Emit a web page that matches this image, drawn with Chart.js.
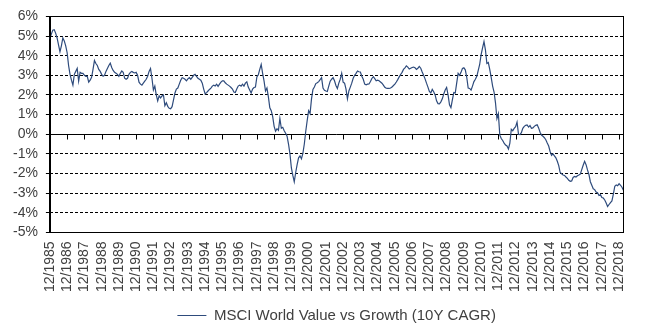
<!DOCTYPE html>
<html lang="en">
<head>
  <meta charset="UTF-8" />
  <title>MSCI World Value vs Growth (10Y CAGR)</title>
  <script src="https://cdn.jsdelivr.net/npm/chart.js"></script>
  <style>
    body { margin: 0; background: #fff; }
    .wrap { width: 645px; height: 333px; }
  </style>
</head>
<body>
  <div class="wrap"><canvas id="chart"></canvas></div>

  <script>
    // monthly 10Y CAGR of value vs growth, in %
    const startYear = 1985;
    const startMonth = 12;

    const v1985 = [4.87];
    const v1986 = [5.1, 5.3, 5.32, 5.15, 4.9, 4.55, 4.2, 4.5, 4.9, 4.75, 4.5, 4.15];
    const v1987 = [3.5, 3.05, 2.75, 2.5, 3.05, 3.2, 3.35, 2.7, 3.15, 3.1, 3.1, 3.0];
    const v1988 = [2.95, 2.95, 2.65, 2.75, 2.9, 3.3, 3.75, 3.6, 3.5, 3.3, 3.2, 3.05];
    const v1989 = [2.95, 3.0, 3.2, 3.35, 3.5, 3.62, 3.4, 3.25, 3.15, 3.1, 3.05, 2.95];
    const v1990 = [3.1, 3.22, 3.15, 2.85, 2.8, 2.85, 3.05, 3.15, 3.2, 3.15, 3.12, 3.15];
    const v1991 = [3.0, 2.65, 2.55, 2.5, 2.6, 2.7, 2.8, 2.95, 3.2, 3.35, 2.85, 2.25];
    const v1992 = [2.45, 2.0, 1.7, 1.95, 1.85, 1.95, 2.0, 1.45, 1.6, 1.42, 1.32, 1.3];
    const v1993 = [1.4, 1.75, 2.1, 2.3, 2.35, 2.55, 2.75, 2.88, 2.85, 2.8, 2.72, 2.82];
    const v1994 = [2.88, 2.8, 2.9, 3.0, 3.05, 2.95, 2.85, 2.8, 2.75, 2.6, 2.3, 2.05];
    const v1995 = [2.12, 2.2, 2.28, 2.35, 2.45, 2.5, 2.46, 2.55, 2.44, 2.55, 2.65, 2.72];
    const v1996 = [2.72, 2.62, 2.55, 2.5, 2.45, 2.38, 2.3, 2.15, 2.12, 2.3, 2.45, 2.5];
    const v1997 = [2.45, 2.55, 2.45, 2.6, 2.67, 2.4, 2.25, 2.1, 2.3, 2.38, 2.4, 2.92];
    const v1998 = [3.03, 3.3, 3.55, 3.1, 2.7, 2.2, 2.35, 1.9, 1.35, 1.2, 0.9, 0.4];
    const v1999 = [0.15, 0.28, 0.2, 0.8, 0.3, 0.35, 0.18, 0.05, -0.1, -0.5, -1.0, -1.72];
    const v2000 = [-2.1, -2.42, -1.95, -1.55, -1.2, -1.1, -1.25, -0.98, -0.5, 0.15, 0.7, 1.2];
    const v2001 = [1.05, 1.8, 2.28, 2.4, 2.58, 2.62, 2.68, 2.78, 2.88, 2.35, 2.24, 2.2];
    const v2002 = [2.18, 2.45, 2.7, 2.8, 2.88, 2.72, 2.48, 2.33, 2.6, 2.8, 3.1, 2.65];
    const v2003 = [2.6, 2.3, 1.8, 2.2, 2.4, 2.6, 2.85, 3.0, 3.1, 3.22, 3.18, 3.17];
    const v2004 = [2.95, 2.8, 2.55, 2.52, 2.55, 2.56, 2.68, 2.84, 2.93, 2.83, 2.72, 2.75];
    const v2005 = [2.72, 2.66, 2.6, 2.5, 2.39, 2.34, 2.33, 2.33, 2.35, 2.4, 2.48, 2.55];
    const v2006 = [2.66, 2.78, 2.92, 3.04, 3.15, 3.3, 3.38, 3.48, 3.42, 3.32, 3.36, 3.4];
    const v2007 = [3.42, 3.38, 3.3, 3.36, 3.45, 3.36, 3.17, 3.0, 2.82, 2.6, 2.4, 2.18];
    const v2008 = [2.1, 2.28, 2.16, 2.0, 1.7, 1.56, 1.55, 1.65, 1.8, 2.05, 2.25, 2.38];
    const v2009 = [2.0, 1.5, 1.35, 1.75, 2.12, 2.1, 2.6, 3.1, 3.0, 3.15, 3.35, 3.38];
    const v2010 = [3.28, 2.9, 2.35, 2.33, 2.25, 2.45, 2.68, 2.8, 2.95, 3.25, 3.55, 4.05];
    const v2011 = [4.4, 4.72, 4.3, 3.6, 3.65, 3.3, 2.9, 2.45, 2.15, 1.6, 0.8, 1.05];
    const v2012 = [-0.05, -0.22, -0.32, -0.45, -0.55, -0.6, -0.75, -0.45, 0.25, 0.18, 0.3, 0.38];
    const v2013 = [0.62, 0.0, -0.02, 0.08, 0.3, 0.4, 0.45, 0.47, 0.36, 0.44, 0.3, 0.32];
    const v2014 = [0.4, 0.45, 0.48, 0.32, 0.1, -0.04, -0.1, -0.18, -0.28, -0.45, -0.6, -0.88];
    const v2015 = [-1.08, -1.0, -1.1, -1.2, -1.38, -1.6, -1.95, -2.02, -2.08, -2.1, -2.18, -2.25];
    const v2016 = [-2.35, -2.4, -2.38, -2.2, -2.15, -2.18, -2.12, -2.08, -2.03, -1.8, -1.58, -1.38];
    const v2017 = [-1.55, -1.82, -2.05, -2.42, -2.6, -2.78, -2.82, -2.95, -2.98, -3.12, -3.08, -3.22];
    const v2018 = [-3.25, -3.35, -3.5, -3.68, -3.58, -3.48, -3.4, -3.05, -2.65, -2.58, -2.62, -2.52];
    const v2019 = [-2.6, -2.7, -2.85];

    const seriesName = 'MSCI World Value vs Growth (10Y CAGR)';
    const yMin = -5;
    const yMax = 6;
    const yStep = 1;
    const tickMonth = 12; // one label per year, at december

    const values = [].concat(
      v1985, v1986, v1987, v1988, v1989, v1990, v1991, v1992, v1993, v1994,
      v1995, v1996, v1997, v1998, v1999, v2000, v2001, v2002, v2003, v2004,
      v2005, v2006, v2007, v2008, v2009, v2010, v2011, v2012, v2013, v2014,
      v2015, v2016, v2017, v2018, v2019
    );

    const months = values.map((_, i) => {
      const n = startMonth - 1 + i;
      return (n % 12 + 1) + '/' + (startYear + Math.floor(n / 12));
    });

    const labelFont = { family: "'Liberation Sans', Arial, sans-serif", size: 14 };
    const textColor = '#404040';

    // box round the plot and small ticks on the 0% line
    const framePlugin = {
      id: 'frame',
      afterDraw(chart) {
        const { ctx, chartArea: a, scales: { x, y } } = chart;
        ctx.save();
        ctx.strokeStyle = '#000';
        ctx.lineWidth = 1;
        ctx.strokeRect(Math.round(a.left) + 0.5, Math.round(a.top) + 0.5,
          Math.round(a.right - a.left) - 1, Math.round(a.bottom - a.top));
        const y0 = Math.round(y.getPixelForValue(0)) + 0.5;
        ctx.beginPath();
        x.ticks.forEach(t => {
          const px = Math.round(x.getPixelForValue(t.value)) + 0.5;
          ctx.moveTo(px, y0);
          ctx.lineTo(px, y0 + 5);
        });
        ctx.stroke();
        ctx.restore();
      }
    };

    new Chart(document.getElementById('chart'), {
      type: 'line',
      data: {
        labels: months,
        datasets: [{
          label: seriesName,
          data: values,
          borderColor: '#2e4b7c',
          backgroundColor: '#2e4b7c',
          borderWidth: 1.2,
          pointRadius: 0,
          tension: 0,
          fill: false
        }]
      },
      options: {
        responsive: true,
        maintainAspectRatio: false,
        animation: false,
        layout: { padding: { left: 5, right: 12, top: 9, bottom: 0 } },
        plugins: {
          tooltip: { enabled: false },
          legend: {
            position: 'bottom',
            fullSize: false,
            labels: {
              usePointStyle: true,
              pointStyle: 'line',
              pointStyleWidth: 29,
              color: textColor,
              font: { family: labelFont.family, size: 15 },
              padding: 7
            }
          }
        },
        scales: {
          x: {
            type: 'category',
            offset: false,
            afterBuildTicks(scale) {
              scale.ticks = scale.ticks.filter(t =>
                months[t.value].startsWith(tickMonth + '/'));
            },
            ticks: {
              autoSkip: false,
              minRotation: 90,
              maxRotation: 90,
              padding: 9,
              color: textColor,
              font: labelFont
            },
            grid: { display: false, drawTicks: false },
            border: { display: true, color: '#000', width: 1 }
          },
          y: {
            min: yMin,
            max: yMax,
            ticks: {
              stepSize: yStep,
              autoSkip: false,
              padding: 8,
              color: textColor,
              font: labelFont,
              callback: v => v + '%'
            },
            grid: {
              color: '#000',
              lineWidth: 1,
              tickLength: 4,
              tickColor: '#000'
            },
            border: {
              display: true,
              color: '#000',
              width: 1,
              dash: ctx => (ctx.tick && (ctx.tick.value === 0 || ctx.tick.value === yMin || ctx.tick.value === yMax)) ? [] : [3, 2]
            }
          }
        }
      },
      plugins: [framePlugin]
    });
  </script>
</body>
</html>
